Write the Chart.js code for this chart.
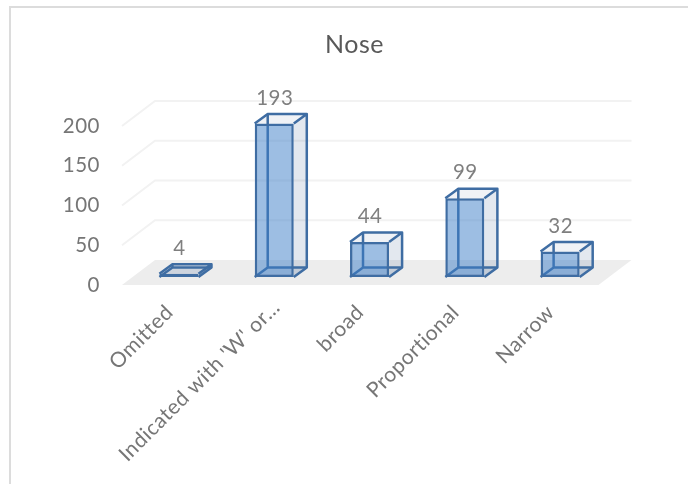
<!DOCTYPE html>
<html>
<head>
<meta charset="utf-8">
<style>
  html, body { margin: 0; padding: 0; background: #fff; overflow: hidden; }
  #frame { position: absolute; left: 9px; top: 6px; right: 0; bottom: 0; border-left: 2px solid #dcdcdc; border-top: 2px solid #dcdcdc; }
  #wrap { position: absolute; left: 0; top: 0; width: 688px; height: 484px; }
</style>
<script src="https://cdn.jsdelivr.net/npm/chart.js@4"></script>
</head>
<body>
<div id="frame"></div>
<div id="wrap"><canvas id="chart" width="688" height="484"></canvas></div>
<script>
const categories = ["Omitted", "Indicated with 'W' or…", "broad", "Proportional", "Narrow"];
const noseValues = [4, 193, 44, 99, 32];
const axisMax = 200;
const axisStep = 50;

// fake 3D settings
const FLOOR_DX = 33, FLOOR_DY = -25;
const BAR_SHIFT_X = 9.3, BAR_SHIFT_Y = -8;
const BAR_DX = 13, BAR_DY = -9.5;
const EDGE = "#3f6da3";
const EDGE_W = 2.5;

function poly(ctx, pts, fill) {
  ctx.beginPath();
  pts.forEach((p, i) => (i ? ctx.lineTo(p[0], p[1]) : ctx.moveTo(p[0], p[1])));
  ctx.closePath();
  ctx.fillStyle = fill;
  ctx.fill();
}

function barBox(bar) {
  const p = bar.getProps(["x", "y", "base", "width"], true);
  return { l: p.x - p.width / 2, r: p.x + p.width / 2, t: p.y, b: p.base };
}

const wallPlugin = {
  id: "wall",
  afterLayout(chart) {
    // title sits a little right of the canvas centre
    chart.titleBlock.left = 21;
    chart.titleBlock.right = 688;
    // the long label ends further right than the others in the original
    const item = chart.scales.x.getLabelItems()[1];
    item.options.translation[0] += 11.5;
    item.options.translation[1] -= 5;
  },
  beforeDraw(chart) {
    chart.ctx.letterSpacing = "0.5px";
  },
  beforeDatasetsDraw(chart) {
    const { ctx, chartArea, scales } = chart;
    const y0 = scales.y.getPixelForValue(0);
    ctx.save();
    poly(ctx, [
      [chartArea.left, y0],
      [chartArea.right, y0],
      [chartArea.right + FLOOR_DX, y0 + FLOOR_DY],
      [chartArea.left + FLOOR_DX, y0 + FLOOR_DY],
    ], "#ededed");
    ctx.strokeStyle = "#f2f2f2";
    ctx.lineWidth = 2;
    scales.y.ticks.forEach((t) => {
      if (t.value === 0) return;
      const py = scales.y.getPixelForValue(t.value);
      ctx.beginPath();
      ctx.moveTo(chartArea.left, py);
      ctx.lineTo(chartArea.left + FLOOR_DX, py + FLOOR_DY);
      ctx.lineTo(chartArea.right + FLOOR_DX, py + FLOOR_DY);
      ctx.stroke();
    });
    ctx.restore();
  },
  beforeDatasetDraw(chart, args) {
    const ctx = chart.ctx;
    ctx.save();
    ctx.translate(BAR_SHIFT_X, BAR_SHIFT_Y);
    // back, bottom and right faces go behind the front of the bar
    args.meta.data.forEach((bar) => {
      const { l, r, t, b } = barBox(bar);
      const dx = BAR_DX, dy = BAR_DY;
      poly(ctx, [[l, b], [r, b], [r + dx, b + dy], [l + dx, b + dy]], "rgba(60,105,165,0.10)");
      poly(ctx, [[r, t], [r + dx, t + dy], [r + dx, b + dy], [r, b]], "rgba(60,90,140,0.14)");
      poly(ctx, [[l, t], [r, t], [r + dx, t + dy], [l + dx, t + dy]], "rgba(60,90,140,0.08)");
      ctx.strokeStyle = EDGE;
      ctx.lineWidth = EDGE_W;
      ctx.beginPath();
      ctx.moveTo(l + dx, t + dy);
      ctx.lineTo(l + dx, b + dy);
      ctx.lineTo(r + dx, b + dy);
      ctx.moveTo(l, b);
      ctx.lineTo(l + dx, b + dy);
      ctx.stroke();
    });
  },
  afterDatasetDraw(chart, args) {
    const ctx = chart.ctx;
    args.meta.data.forEach((bar) => {
      const { l, r, t, b } = barBox(bar);
      const dx = BAR_DX, dy = BAR_DY;
      ctx.strokeStyle = EDGE;
      ctx.lineWidth = EDGE_W;
      ctx.lineJoin = "round";
      ctx.beginPath();
      ctx.moveTo(l, t);
      ctx.lineTo(l + dx, t + dy);
      ctx.lineTo(r + dx, t + dy);
      ctx.lineTo(r + dx, b + dy);
      ctx.lineTo(r, b);
      ctx.moveTo(r, t);
      ctx.lineTo(r + dx, t + dy);
      ctx.stroke();
    });
    ctx.restore();
  },
  afterDatasetsDraw(chart) {
    const ctx = chart.ctx;
    ctx.save();
    ctx.fillStyle = "#7f7f7f";
    ctx.font = "20.5px Lato";
    ctx.textAlign = "center";
    ctx.textBaseline = "middle";
    chart.getDatasetMeta(0).data.forEach((bar, i) => {
      const { l, r, t } = barBox(bar);
      const tx = (l + r) / 2 + BAR_SHIFT_X + 0.5;
      const ty = t + BAR_SHIFT_Y + BAR_DY - 16;
      ctx.fillText(noseValues[i], tx, ty);
    });
    ctx.restore();
  },
};

new Chart(document.getElementById("chart"), {
  type: "bar",
  data: {
    labels: categories,
    datasets: [
      {
        label: "Nose",
        data: noseValues,
        backgroundColor: "rgba(60,125,200,0.5)",
        borderColor: EDGE,
        borderWidth: EDGE_W,
        borderSkipped: false,
        barPercentage: 1,
        categoryPercentage: 0.41,
      },
    ],
  },
  options: {
    responsive: false,
    animation: false,
    layout: { padding: { left: 0, right: 89.5, top: 0, bottom: 0 } },
    plugins: {
      legend: { display: false },
      tooltip: { enabled: false },
      title: {
        display: true,
        text: "Nose",
        color: "#595959",
        font: { family: "Lato", size: 25, weight: "normal" },
        padding: { top: 30, bottom: 66 },
      },
    },
    scales: {
      x: {
        grid: { display: false },
        border: { display: false },
        ticks: {
          color: "#767676",
          font: { family: "Lato", size: 21 },
          minRotation: 45,
          maxRotation: 45,
          autoSkip: false,
          padding: 7,
        },
        afterFit(scale) {
          scale.height = 199;
        },
      },
      y: {
        min: 0,
        max: axisMax,
        grid: { display: false },
        border: { display: false },
        ticks: {
          stepSize: axisStep,
          color: "#767676",
          font: { family: "Lato", size: 20.5 },
          padding: 14,
        },
        afterFit(scale) {
          scale.width = 122;
        },
      },
    },
  },
  plugins: [wallPlugin],
});
</script>
</body>
</html>
